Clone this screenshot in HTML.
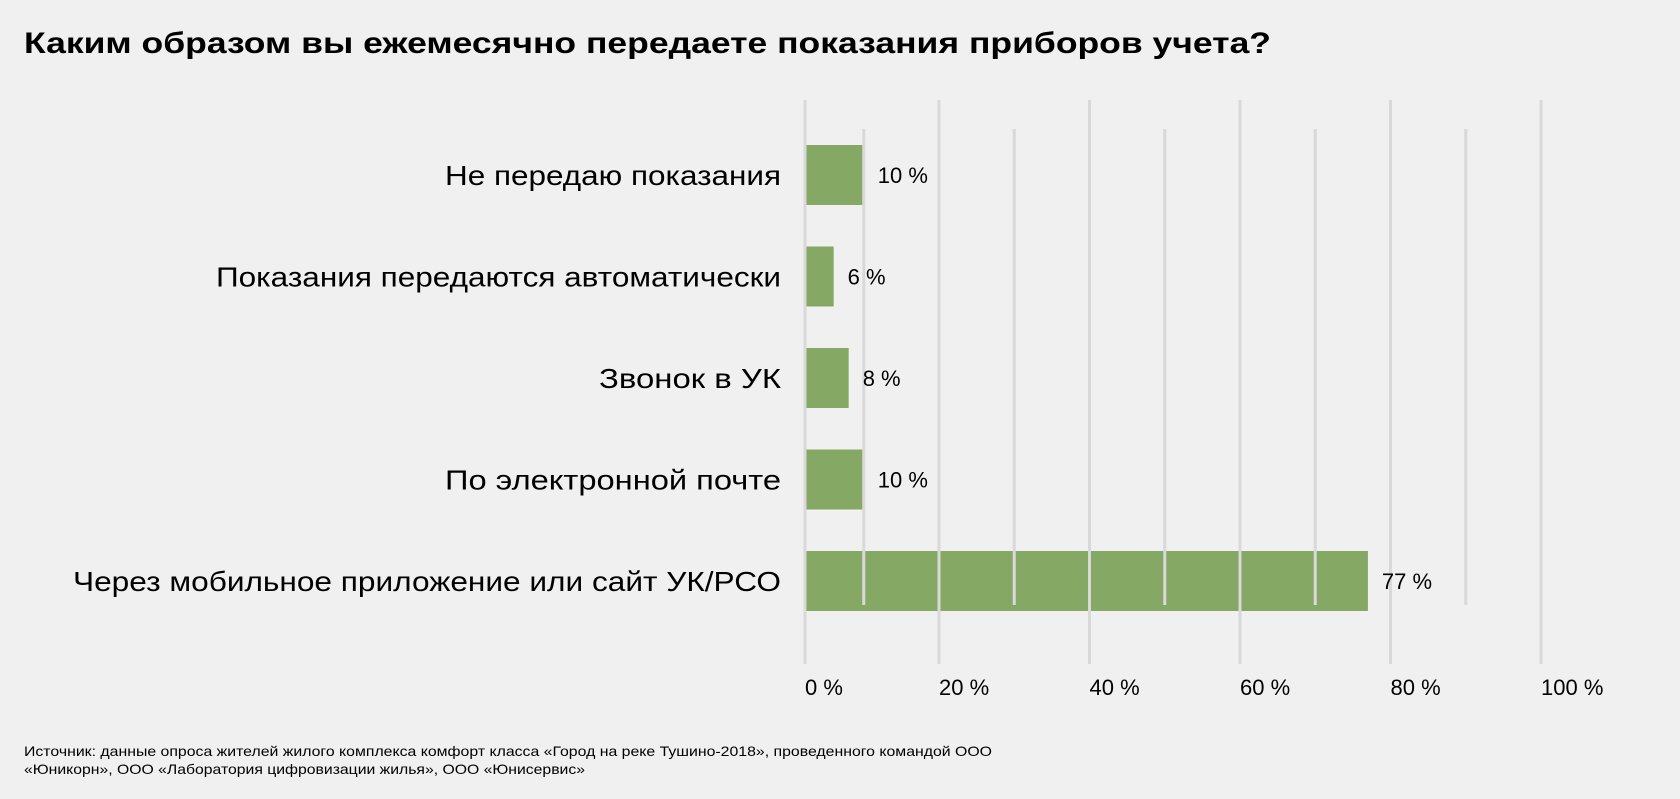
<!DOCTYPE html>
<html><head><meta charset="utf-8"><style>
html,body{margin:0;padding:0;background:#f0f0f0;}
svg{display:block;font-family:"Liberation Sans","Noto Sans CJK SC",sans-serif;}
</style></head><body>
<svg id="chart" width="1680" height="799" viewBox="0 0 1680 799">
<rect width="1680" height="799" fill="#f0f0f0"/>
<text x="24" y="53" font-size="30" font-weight="bold" fill="#000" textLength="1247" lengthAdjust="spacingAndGlyphs">Каким образом вы ежемесячно передаете показания приборов учета?</text>
<g id="bars"></g>
<g id="grid"></g>
<g id="vals"></g>
<g id="labels"></g>
<g id="ticks"></g>
<text x="24" y="756" font-size="14" fill="#000" textLength="968" lengthAdjust="spacingAndGlyphs">Источник: данные опроса жителей жилого комплекса комфорт класса «Город на реке Тушино-2018», проведенного командой ООО</text>
<text x="24" y="774" font-size="14" fill="#000" textLength="561" lengthAdjust="spacingAndGlyphs">«Юникорн», ООО «Лаборатория цифровизации жилья», ООО «Юнисервис»</text>
</svg>
<script>
const categories = ["Не передаю показания","Показания передаются автоматически","Звонок в УК","По электронной почте","Через мобильное приложение или сайт УК/РСО"];
const values = [10, 6, 8, 10, 77];
const valueLabels = ["10 %","6 %","8 %","10 %","77 %"];
const tickValues = [0, 20, 40, 60, 80, 100];
const tickLabels = ["0 %","20 %","40 %","60 %","80 %","100 %"];
const labelWidths = [336, 565, 182, 336, 708];

const NS = "http://www.w3.org/2000/svg";
const x0 = 805;
const xs = v => 788.5 + v * 7.525;
const gridX = v => v === 0 ? x0 : xs(v);
const rowTop = i => 145 + i * 101.5;
const barH = 60;
function mk(tag, attrs, parent){ const e=document.createElementNS(NS,tag); for(const k in attrs) e.setAttribute(k,attrs[k]); parent.appendChild(e); return e; }

const grid = document.getElementById('grid');
tickValues.forEach((t,i)=>{
  const l = mk('line',{x1:gridX(t),x2:gridX(t),y1:100,y2:664,stroke:'#d9d9d9','stroke-width':3},grid);
  
  
  if(i<tickValues.length-1){
    const mx = xs(t+10);
    const ml = mk('line',{x1:mx,x2:mx,y1:129,y2:605,stroke:'#d9d9d9','stroke-width':3},grid);
    
    
  }
});
const bars = document.getElementById('bars');
const vals = document.getElementById('vals');
const labels = document.getElementById('labels');
categories.forEach((c,i)=>{
  const y = rowTop(i);
  const r = mk('rect',{x:x0,y:y,width:Math.max(0,xs(values[i])-x0),height:barH,fill:'#86a865'},bars);
  
  
  const vt = mk('text',{x:Math.max(x0,xs(values[i]))+14,y:y+barH/2+8,'font-size':22,fill:'#000'},vals);
  vt.textContent = valueLabels[i];
  
  
  const ct = mk('text',{x:781,y:y+barH/2+10,'font-size':28,fill:'#000','text-anchor':'end',textLength:labelWidths[i],lengthAdjust:'spacingAndGlyphs'},labels);
  ct.textContent = c;
  
  
});
const ticks = document.getElementById('ticks');
tickValues.forEach((t,i)=>{
  const tt = mk('text',{x:gridX(t),y:695,'font-size':22,fill:'#000'},ticks);
  tt.textContent = tickLabels[i];
  
  
});
</script>
</body></html>
